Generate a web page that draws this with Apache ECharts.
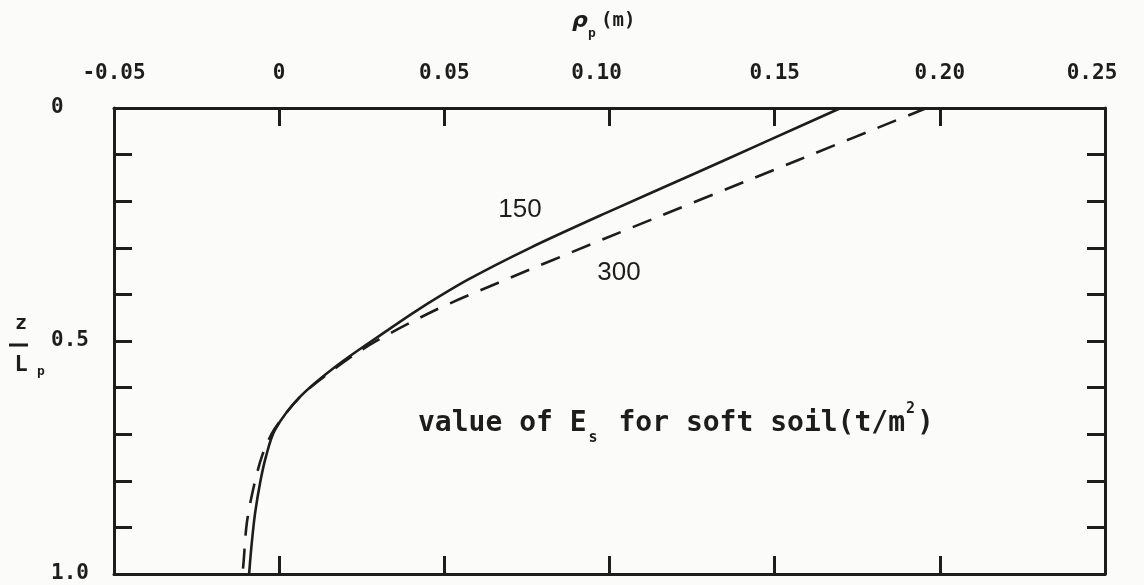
<!DOCTYPE html>
<html>
<head>
<meta charset="utf-8">
<script src="https://cdn.jsdelivr.net/npm/echarts@6/dist/echarts.min.js"></script>
<style>
html,body{margin:0;padding:0;background:#fbfbf9;}
#chart{width:1144px;height:585px;}
</style>
</head>
<body>
<div id="chart"></div>
<script>
// Tick labels
const xTickLabels = ['-0.05', '0', '0.05', '0.10', '0.15', '0.20', '0.25'];
const yTickLabels = ['0', '', '', '', '', '0.5', '', '', '', '', '1.0'];

// Curve for Es = 150 (solid): depth z/Lp and displacement rho_p (m)
const depth150 = [0, 0.07, 0.14, 0.225, 0.30, 0.369, 0.433, 0.476, 0.55, 0.62, 0.691, 0.748, 0.798, 0.870, 0.941, 1.0];
const rho150   = [0.170, 0.148, 0.126, 0.099, 0.076, 0.057, 0.042, 0.033, 0.018, 0.0063, -0.0013, -0.004, -0.0056, -0.0073, -0.0084, -0.0091];

// Curve for Es = 300 (dashed)
const depth300 = [0, 0.112, 0.279, 0.376, 0.433, 0.504, 0.562, 0.62, 0.69, 0.745, 0.816, 0.891, 0.977, 1.0];
const rho300   = [0.196, 0.157, 0.099, 0.066, 0.0475, 0.0284, 0.0163, 0.0063, -0.0015, -0.0051, -0.0078, -0.0098, -0.0108, -0.0111];

const curveLabels = ['150', '300'];

const ink = '#1d1d1d';
const monoFont = '"DejaVu Sans Mono", "Liberation Mono", monospace';

const chart = echarts.init(document.getElementById('chart'), null, {renderer: 'canvas'});

const labelText = {color: ink, fontFamily: monoFont, fontWeight: 'bold', fontSize: 21};

function xAxisCfg(pos, showLabel) {
  return {
    type: 'value', position: pos, min: -0.05, max: 0.25, interval: 0.05,
    axisLine: {show: true, onZero: false, lineStyle: {color: ink, width: 3}},
    axisTick: {show: true, inside: true, length: 18, lineStyle: {color: ink, width: 3}},
    axisLabel: Object.assign({
      show: showLabel, margin: 24,
      formatter: (v, i) => {
        const t = xTickLabels[i];
        // the hand-set labels for 0.10 and 0.25 sit slightly left of their ticks
        if (i === 3 || i === 6) return '{sh|' + t + '}';
        return t;
      },
      rich: {sh: Object.assign({padding: [0, 26, 0, 0]}, labelText)}
    }, labelText),
    splitLine: {show: false}
  };
}
function yAxisCfg(pos, showLabel) {
  return {
    type: 'value', position: pos, inverse: true, min: 0, max: 1, interval: 0.1,
    axisLine: {show: true, onZero: false, lineStyle: {color: ink, width: 3}},
    axisTick: {show: true, inside: true, length: 18, lineStyle: {color: ink, width: 3}},
    axisLabel: Object.assign({
      show: showLabel, margin: 63, align: 'left',
      formatter: (v, i) => yTickLabels[i]
    }, labelText),
    splitLine: {show: false}
  };
}

const option = {
  backgroundColor: '#fbfbf9',
  animation: false,
  grid: {left: 114, right: 39, top: 108, bottom: 11, containLabel: false, outerBoundsMode: 'none'},
  xAxis: [xAxisCfg('top', true), xAxisCfg('bottom', false)],
  yAxis: [yAxisCfg('left', true), yAxisCfg('right', false)],
  series: [
    {
      name: curveLabels[0], type: 'line', xAxisIndex: 0, yAxisIndex: 0,
      data: rho150.map((x, i) => [x, depth150[i]]),
      showSymbol: false, smooth: 0.3,
      lineStyle: {color: ink, width: 2.6, type: 'solid'}
    },
    {
      name: curveLabels[1], type: 'line', xAxisIndex: 0, yAxisIndex: 0,
      data: rho300.map((x, i) => [x, depth300[i]]),
      showSymbol: false, smooth: 0.3,
      lineStyle: {color: ink, width: 2.6, type: [20, 13]}
    }
  ],
  graphic: [
    // x axis title: rho_p (m)
    {type: 'text', left: 572, top: 10, style: {text: 'ρ', fill: ink, font: 'italic bold 22px "DejaVu Sans"'}},
    {type: 'text', left: 588, top: 27, style: {text: 'p', fill: ink, font: 'bold 13px ' + monoFont}},
    {type: 'text', left: 601, top: 12, style: {text: '(m)', fill: ink, font: 'bold 19px ' + monoFont}},
    // y axis title: z / Lp
    {type: 'text', x: 21, y: 324, style: {text: 'z', fill: ink, font: 'bold 20px ' + monoFont, align: 'center', verticalAlign: 'middle'}},
    {type: 'line', shape: {x1: 9, y1: 345, x2: 28, y2: 345}, style: {stroke: ink, lineWidth: 3}},
    {type: 'text', x: 21, y: 365, style: {text: 'L', fill: ink, font: 'bold 22px ' + monoFont, align: 'center', verticalAlign: 'middle'}},
    {type: 'text', x: 41, y: 372, style: {text: 'p', fill: ink, font: 'bold 13px ' + monoFont, align: 'center', verticalAlign: 'middle'}},
    // curve labels
    {type: 'text', x: 520, y: 210, style: {text: curveLabels[0], fill: ink, font: '26px "Liberation Sans", Arial, sans-serif', align: 'center', verticalAlign: 'middle'}},
    {type: 'text', x: 619, y: 273, style: {text: curveLabels[1], fill: ink, font: '26px "Liberation Sans", Arial, sans-serif', align: 'center', verticalAlign: 'middle'}},
    // annotation
    {type: 'text', x: 418, y: 424, style: {
      text: '{a|value of E}{s|s}{a| for soft soil(t/m}{p|2}{a|)}',
      align: 'left', verticalAlign: 'middle', fill: ink,
      rich: {
        a: {fontFamily: monoFont, fontWeight: 'bold', fontSize: 28, lineHeight: 44, fill: ink, verticalAlign: 'middle'},
        s: {fontFamily: monoFont, fontWeight: 'bold', fontSize: 15, lineHeight: 15, fill: ink, verticalAlign: 'bottom', padding: [0, 4, 0, 2]},
        p: {fontFamily: monoFont, fontWeight: 'bold', fontSize: 15, lineHeight: 15, fill: ink, verticalAlign: 'top', padding: [0, 2, 0, 1]}
      }
    }}
  ]
};
chart.setOption(option);
</script>
</body>
</html>
